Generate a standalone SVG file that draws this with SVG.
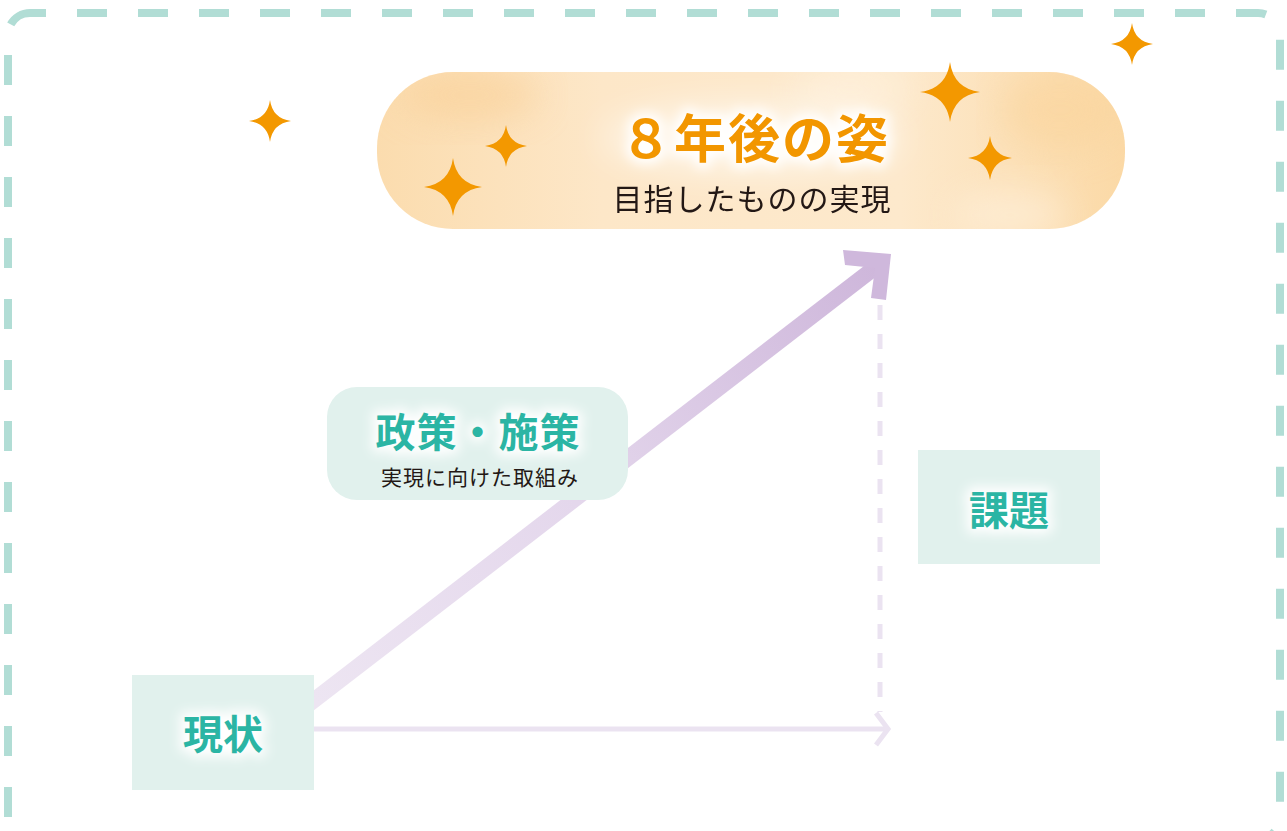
<svg xmlns="http://www.w3.org/2000/svg" width="1287" height="831" viewBox="0 0 1287 831">
<defs>
<style>
.jp{font-family:"Noto Sans CJK JP","Noto Sans CJK SC",sans-serif;text-anchor:middle}
.teal{fill:#2bb5a4;font-weight:700}
.dark{fill:#231815;font-weight:400}
.glow{fill:#fff;stroke:#fff;stroke-width:10;stroke-linejoin:round;filter:url(#blur)}
.star{fill:#f39800}
.box{fill:#e1f1ed}
</style>
<filter id="blur" x="-30%" y="-60%" width="160%" height="220%"><feGaussianBlur stdDeviation="6"/></filter>
<filter id="soft" x="-20%" y="-50%" width="140%" height="200%"><feGaussianBlur stdDeviation="18"/></filter>
<linearGradient id="pill" x1="0" y1="0" x2="1" y2="0">
<stop offset="0" stop-color="#fbdcae"/>
<stop offset="0.3" stop-color="#fde7c8"/>
<stop offset="0.7" stop-color="#fde9cc"/>
<stop offset="1" stop-color="#fbd9a6"/>
</linearGradient>
<linearGradient id="shaft" gradientUnits="userSpaceOnUse" x1="315" y1="700" x2="890" y2="254">
<stop offset="0" stop-color="#ede5f2"/>
<stop offset="0.45" stop-color="#e4d7ec"/>
<stop offset="1" stop-color="#cdb5da"/>
</linearGradient>
<clipPath id="pillclip"><rect x="377" y="72" width="748" height="157" rx="76"/></clipPath>
<path id="st" d="M0,-1 Q0.12,-0.12 1,0 Q0.12,0.12 0,1 Q-0.12,0.12 -1,0 Q-0.12,-0.12 0,-1Z"/>
</defs>
<rect width="1287" height="831" fill="#fff"/>
<rect x="8" y="13" width="1272" height="826" rx="22" fill="none" stroke="#b1ddd5" stroke-width="8" stroke-dasharray="30 31" stroke-dashoffset="14"/>

<g id="connectors">
<line x1="300" y1="711" x2="877" y2="266" stroke="url(#shaft)" stroke-width="16"/>
<polygon points="843,250 891,254 886,300 871,298 875,268 845,265" fill="#cfb8dc"/>
<line x1="880" y1="305" x2="880" y2="712" stroke="#ebe3f1" stroke-width="5" stroke-dasharray="15 14"/>
<line x1="312" y1="729" x2="889" y2="729" stroke="#ebe3f1" stroke-width="5"/>
<polyline points="876,713 888,729 876,745" fill="none" stroke="#ebe3f1" stroke-width="5"/>
</g>

<g id="goal">
<rect x="377" y="72" width="748" height="157" rx="76" fill="url(#pill)"/>
<g clip-path="url(#pillclip)" opacity="0.6">
<ellipse cx="470" cy="95" rx="70" ry="25" fill="#f9cf95" filter="url(#soft)"/>
<ellipse cx="1060" cy="110" rx="60" ry="40" fill="#fad49c" filter="url(#soft)"/>
<ellipse cx="850" cy="90" rx="60" ry="25" fill="#fff4e3" filter="url(#soft)"/>
<ellipse cx="1010" cy="215" rx="60" ry="25" fill="#fff2e0" filter="url(#soft)"/>
</g>
<ellipse cx="752" cy="138" rx="150" ry="35" fill="#fff" opacity="0.55" filter="url(#soft)"/>
<text class="jp glow" x="755" y="158" font-size="52" letter-spacing="2" font-weight="700">８年後の姿</text>
<text class="jp" x="755" y="158" font-size="52" letter-spacing="2" font-weight="700" fill="#f29600">８年後の姿</text>
<text class="jp dark" x="752" y="210" font-size="30" letter-spacing="1">目指したものの実現</text>
</g>

<g id="stars">
<use href="#st" class="star" transform="translate(270,121) scale(21)"/>
<use href="#st" class="star" transform="translate(1132,44) scale(21)"/>
<use href="#st" class="star" transform="translate(950,92) scale(30)"/>
<use href="#st" class="star" transform="translate(506,146) scale(21)"/>
<use href="#st" class="star" transform="translate(453,187) scale(29)"/>
<use href="#st" class="star" transform="translate(990,158) scale(22)"/>
</g>

<g id="policy">
<rect x="327" y="387" width="301" height="113" rx="30" class="box"/>
<text class="jp glow" x="478" y="447" font-size="40" letter-spacing="1" font-weight="700">政策・施策</text>
<text class="jp teal" x="478" y="447" font-size="40" letter-spacing="1">政策・施策</text>
<text class="jp dark" x="480" y="485" font-size="21" letter-spacing="1">実現に向けた取組み</text>
</g>

<g id="issue">
<rect x="918" y="450" width="182" height="114" class="box"/>
<text class="jp glow" x="1009" y="525" font-size="40" font-weight="700">課題</text>
<text class="jp teal" x="1009" y="525" font-size="40">課題</text>
</g>

<g id="current">
<rect x="132" y="675" width="182" height="115" class="box"/>
<text class="jp glow" x="223" y="749" font-size="40" font-weight="700">現状</text>
<text class="jp teal" x="223" y="749" font-size="40">現状</text>
</g>
</svg>
